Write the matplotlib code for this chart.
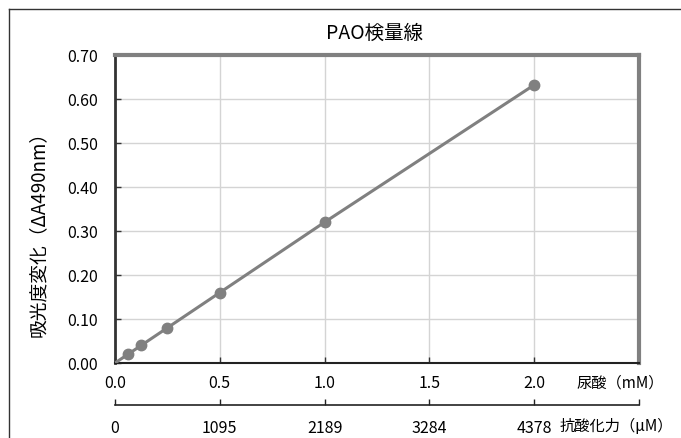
import numpy as np
import matplotlib.pyplot as plt
from matplotlib.lines import Line2D

plt.rcParams['font.family'] = ['Noto Sans CJK JP', 'DejaVu Sans']

# data
uric_mM = [0.0, 0.0625, 0.125, 0.25, 0.5, 1.0, 2.0]
delta_abs = [0.0, 0.02, 0.04, 0.08, 0.16, 0.32, 0.632]
x_ticks = [0.0, 0.5, 1.0, 1.5, 2.0]
y_ticks = [0.0, 0.1, 0.2, 0.3, 0.4, 0.5, 0.6, 0.7]
pao_ticks = [0, 1095, 2189, 3284, 4378]
pao_per_mM = 2189.0

W, H = 681, 438
fig = plt.figure(figsize=(W / 100, H / 100), dpi=100)
ax = fig.add_axes([115 / W, 1 - 363 / H, (639 - 115) / W, (363 - 55) / H])

ax.plot(uric_mM, delta_abs, color='#808080', lw=2.2, zorder=3)
ax.plot(uric_mM[1:], delta_abs[1:], 'o', color='#808080', ms=7.5, zorder=4)

ax.set_xlim(0, 2.5)
ax.set_ylim(0, 0.7)
ax.set_yticks(y_ticks)
ax.set_yticklabels(['%.2f' % v for v in y_ticks])
ax.set_xticks([0.5 * i for i in range(6)])
ax.set_xticklabels(['%.1f' % v for v in x_ticks] + [''])
ax.grid(True, color='#d4d4d4', lw=1)
ax.set_axisbelow(True)

ax.tick_params(axis='both', direction='in', length=4, width=1, color='#333333', labelsize=11.5)
ax.tick_params(axis='x', pad=9)
ax.tick_params(axis='y', pad=12)

ax.spines['left'].set_color('#333333')
ax.spines['left'].set_linewidth(2)
ax.spines['bottom'].set_color('#222222')
ax.spines['bottom'].set_linewidth(1.5)
for s in ['top', 'right']:
    ax.spines[s].set_color('#808080')
    ax.spines[s].set_linewidth(3)

# second x axis: antioxidant capacity
sec = ax.secondary_xaxis(-(405 - 363) / (363 - 55),
                         functions=(lambda x: x * pao_per_mM, lambda x: x / pao_per_mM))
sec.set_xticks(pao_ticks + [2.5 * pao_per_mM])
sec.set_xticklabels([str(v) for v in pao_ticks] + [''])
sec.tick_params(direction='in', length=4, width=1, color='#222222', labelsize=11.5, pad=11)
sec.spines['bottom'].set_color('#222222')
sec.spines['bottom'].set_linewidth(1.2)

fig.text(375 / W, 1 - 33 / H, 'PAO検量線', ha='center', va='center', fontsize=14)
fig.text(38 / W, 1 - 229 / H, '吸光度変化（ΔA490nm）', ha='center', va='center',
         rotation=90, fontsize=13.5)
fig.text(576 / W, 1 - 383 / H, '尿酸（mM）', ha='left', va='center', fontsize=11)
fig.text(560 / W, 1 - 427 / H, '抗酸化力（μM）', ha='left', va='center', fontsize=11)

# outer frame (only top/left edge visible)
fig.add_artist(Line2D([8.5 / W, 1], [1 - 8.5 / H, 1 - 8.5 / H], color='#333333', lw=1))
fig.add_artist(Line2D([8.5 / W, 8.5 / W], [0, 1 - 8.5 / H], color='#333333', lw=1))

fig.savefig('out.png', dpi=100)
